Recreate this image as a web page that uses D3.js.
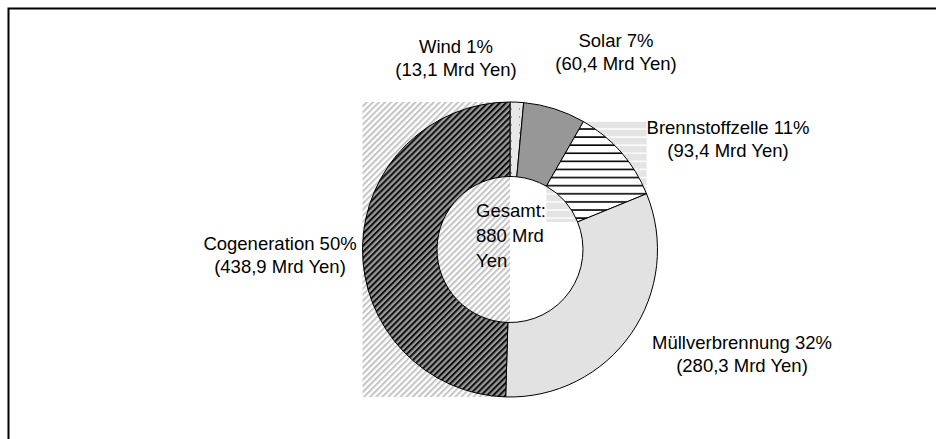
<!DOCTYPE html>
<html>
<head>
<meta charset="utf-8">
<style>
  body { margin: 0; background: #fff; }
  svg { display: block; font-family: "Liberation Sans", Arial, sans-serif; }
</style>
</head>
<body>
<svg width="936" height="439"></svg>
<script src="https://cdn.jsdelivr.net/npm/d3@7"></script>
<script>
// data
var categories = ["Wind", "Solar", "Brennstoffzelle", "Müllverbrennung", "Cogeneration"];
var percents = [1, 7, 11, 32, 50];
var amounts = [13.1, 60.4, 93.4, 280.3, 438.9];
var totalLines = ["Gesamt:", "880 Mrd", "Yen"];

// look of each slice
var fills = ["url(#dots)", "#979797", "url(#hstripe)", "#e2e2e2", "url(#diag)"];
var shadow = [null, null, "url(#hstripeLight)", null, "url(#diagLight)"];
// label placement, offset from the centre of the ring
var labelOffset = [[-54, -197], [106, -203], [218, -116], [232, 99], [-230, 0]];

var cx = 510, cy = 249.5, rOuter = 147.5, rInner = 73;

var svg = d3.select("svg");
var defs = svg.append("defs");

function diag(id, bg, fg, w) {
  var p = defs.append("pattern").attr("id", id)
    .attr("patternUnits", "userSpaceOnUse")
    .attr("width", 4.3).attr("height", 4.3)
    .attr("patternTransform", "rotate(45)");
  p.append("rect").attr("width", 4.3).attr("height", 4.3).attr("fill", bg);
  p.append("line").attr("x1", 1).attr("y1", 0).attr("x2", 1).attr("y2", 4.3)
    .attr("stroke", fg).attr("stroke-width", w);
}
diag("diag", "#9a9a9a", "#111", 2.1);
diag("diagLight", "#fff", "#c4c4c4", 2);

function hstripe(id, bg, fg, w) {
  var p = defs.append("pattern").attr("id", id)
    .attr("patternUnits", "userSpaceOnUse")
    .attr("width", 8).attr("height", 8.1);
  p.append("rect").attr("width", 8).attr("height", 8.1).attr("fill", bg);
  p.append("line").attr("x1", 0).attr("y1", 1).attr("x2", 8).attr("y2", 1)
    .attr("stroke", fg).attr("stroke-width", w);
}
hstripe("hstripe", "#fff", "#000", 1.6);
hstripe("hstripeLight", "#e4e4e4", "#fff", 1.4);

var dp = defs.append("pattern").attr("id", "dots")
  .attr("patternUnits", "userSpaceOnUse").attr("width", 8).attr("height", 8);
dp.append("rect").attr("width", 8).attr("height", 8).attr("fill", "#e8e8e8");
dp.append("rect").attr("x", 1).attr("y", 3).attr("width", 1).attr("height", 1).attr("fill", "#555");

// frame
svg.append("rect")
  .attr("x", 8.5).attr("y", 8.5).attr("width", 1000).attr("height", 1000)
  .attr("fill", "none").attr("stroke", "#000").attr("stroke-width", 2);

var rows = categories.map(function(c, i) {
  return { name: c, pct: percents[i], amount: amounts[i], i: i };
});

var pie = d3.pie().sort(null).value(function(d) { return d.amount; });
var arc = d3.arc().innerRadius(rInner).outerRadius(rOuter);
var arcs = pie(rows);

var g = svg.append("g").attr("transform", "translate(" + cx + "," + cy + ")");

// pattern "shadow" boxes behind hatched slices
var shadowLayer = g.append("g");
var slices = g.selectAll(".slice").data(arcs).enter().append("path")
  .attr("class", "slice")
  .attr("d", arc)
  .attr("fill", function(d) { return fills[d.data.i]; })
  .attr("stroke", "#000")
  .attr("stroke-width", 1);

slices.each(function(d) {
  if (!shadow[d.data.i]) return;
  var b = this.getBBox();
  shadowLayer.append("rect")
    .attr("x", b.x).attr("y", b.y).attr("width", b.width).attr("height", b.height)
    .attr("fill", shadow[d.data.i]);
});

// labels
var fmt = function(v) { return v.toFixed(1).replace(".", ","); };
var labels = g.selectAll(".lbl").data(arcs).enter().append("text")
  .attr("class", "lbl")
  .attr("text-anchor", "middle")
  .attr("font-size", "18.5px")
  .attr("fill", "#000")
  .attr("transform", function(d) {
    var o = labelOffset[d.data.i];
    return "translate(" + o[0] + "," + o[1] + ")";
  });
labels.append("tspan").attr("x", 0).attr("y", 0)
  .text(function(d) { return d.data.name + " " + d.data.pct + "%"; });
labels.append("tspan").attr("x", 0).attr("y", 23)
  .text(function(d) { return "(" + fmt(d.data.amount) + " Mrd Yen)"; });

// total in the hole
g.append("text")
  .attr("font-size", "18.5px")
  .selectAll("tspan").data(totalLines).enter().append("tspan")
  .attr("x", -34)
  .attr("y", function(d, i) { return -32.5 + i * 25; })
  .text(function(d) { return d; });
</script>
</body>
</html>
